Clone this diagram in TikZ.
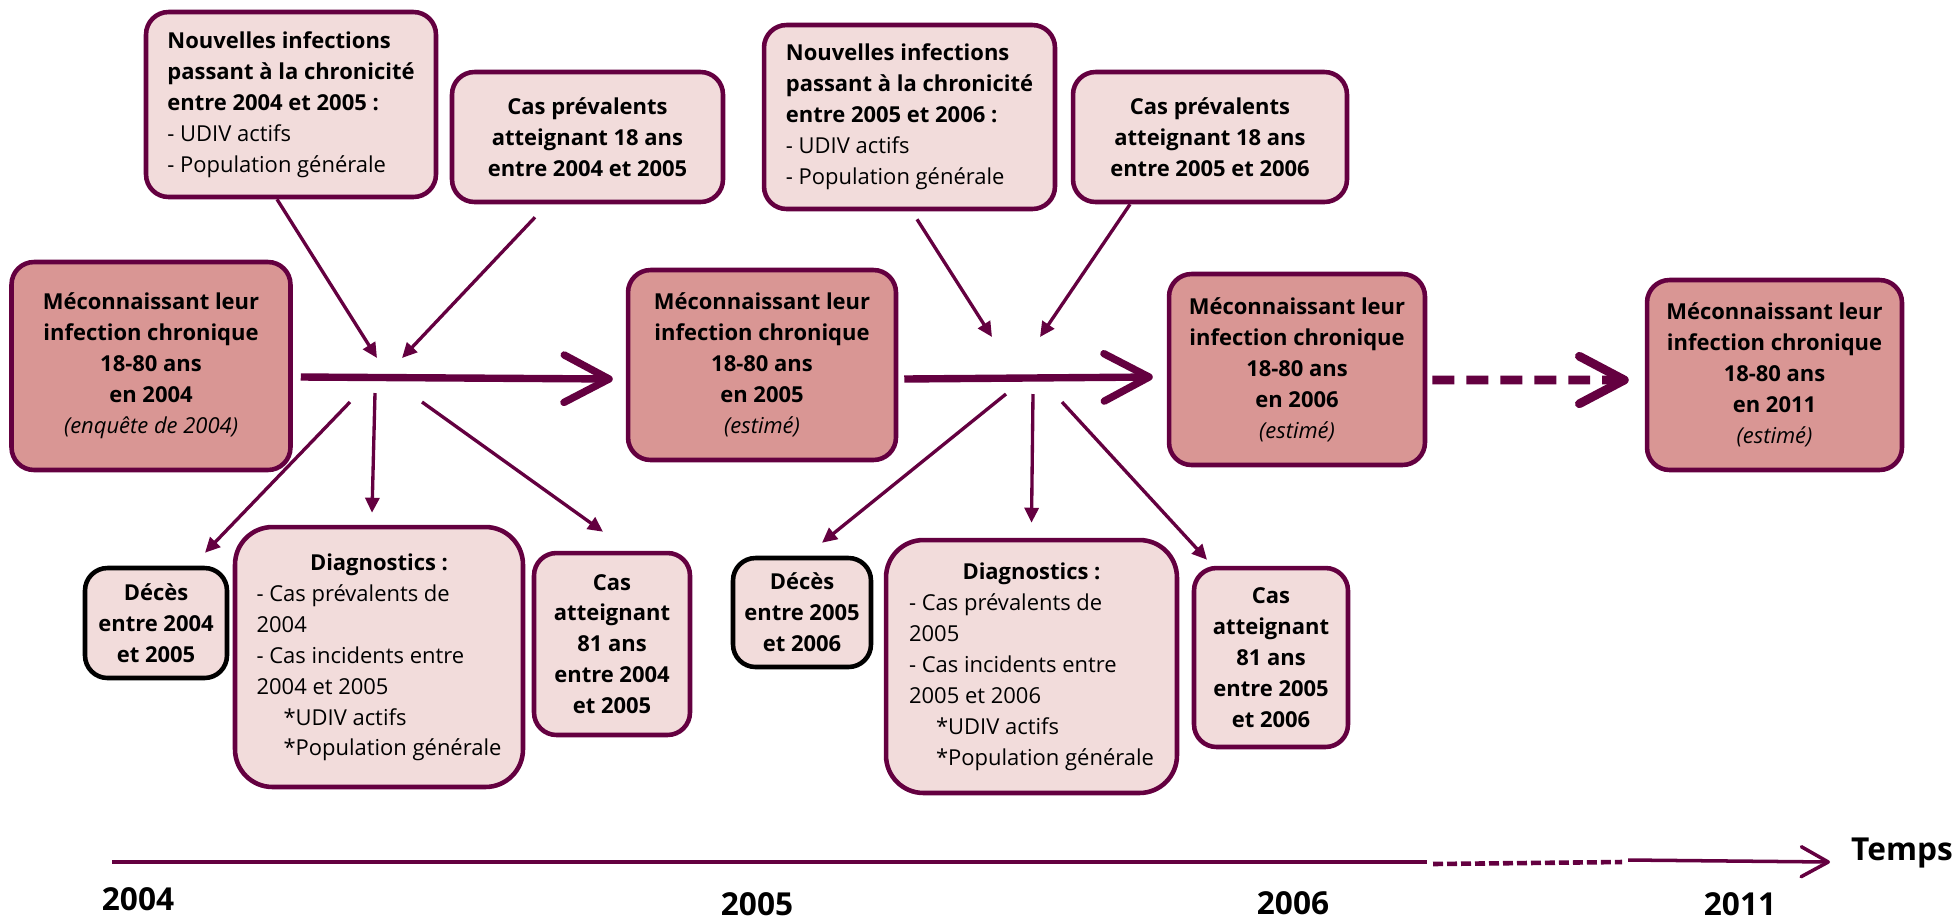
\documentclass[tikz,border=0pt]{standalone}
\usepackage{fontspec}
\setmainfont{Open Sans}
\usepackage{tikz}
\usetikzlibrary{arrows.meta}
\definecolor{wine}{HTML}{640040}
\definecolor{lightrose}{HTML}{F2DCDB}
\definecolor{darkrose}{HTML}{D99694}

\begin{document}
\begin{tikzpicture}[x=0.02cm,y=-0.02cm,
  >={Triangle[length=0.3cm,width=0.28cm]},
  every node/.style={font=\fontsize{12.5}{17.6}\selectfont},
  main node/.style={rectangle,rounded corners=0.45cm,draw=wine,line width=2.6pt,fill=lightrose,inner sep=0pt},
  bold node/.style={main node,align=center,font=\fontsize{12.5}{17.6}\selectfont\bfseries},
  unk node/.style={bold node,fill=darkrose},
  dead node/.style={bold node,draw=black},
  diag node/.style={main node,rounded corners=0.75cm},
  year node/.style={inner sep=0pt,font=\fontsize{18}{22}\selectfont\bfseries},
  flow/.style={->,color=wine,line width=1.9pt},
  big flow/.style={-{Straight Barb[length=0.9cm,width=0.95cm,round]},color=wine,line width=4.2pt},
  time line/.style={draw=wine,line width=2.3pt}]
  \useasboundingbox (0,0) rectangle (1957,921);

  % 2004 -> 2005
  \node[unk node,minimum width=5.58cm,minimum height=4.16cm] (1) at (151,366)
    {Méconnaissant leur\\infection chronique\\18-80 ans\\en 2004\\{\mdseries\itshape (enquête de 2004)}};
  \node[main node,align=left,minimum width=5.8cm,minimum height=3.7cm] (2) at (291,104.5)
    {\textbf{Nouvelles infections}\\\textbf{passant à la chronicité}\\\textbf{entre 2004 et 2005 :}\\- UDIV actifs\\- Population générale};
  \node[bold node,minimum width=5.42cm,minimum height=2.6cm] (3) at (587.5,137)
    {Cas prévalents\\atteignant 18 ans\\entre 2004 et 2005};
  \node[dead node,minimum width=2.84cm,minimum height=2.2cm] (4) at (156,623)
    {Décès\\entre 2004\\et 2005};
  \node[diag node,minimum width=5.76cm,minimum height=5.2cm] (5) at (379,657)
    {\begin{tabular}{@{}l@{}}\multicolumn{1}{@{}c@{}}{\textbf{Diagnostics :}}\\- Cas prévalents de\\2004\\- Cas incidents entre\\2004 et 2005\\\hspace{0.54cm}*UDIV actifs\\\hspace{0.54cm}*Population générale\end{tabular}};
  \node[bold node,minimum width=3.12cm,minimum height=3.64cm] (6) at (612,644)
    {Cas\\atteignant\\81 ans\\entre 2004\\et 2005};

  % 2005 -> 2006
  \node[unk node,minimum width=5.36cm,minimum height=3.8cm] (7) at (762,365)
    {Méconnaissant leur\\infection chronique\\18-80 ans\\en 2005\\{\mdseries\itshape (estimé)}};
  \node[main node,align=left,minimum width=5.82cm,minimum height=3.68cm] (8) at (909.5,117)
    {\textbf{Nouvelles infections}\\\textbf{passant à la chronicité}\\\textbf{entre 2005 et 2006 :}\\- UDIV actifs\\- Population générale};
  \node[bold node,minimum width=5.48cm,minimum height=2.6cm] (9) at (1210,137)
    {Cas prévalents\\atteignant 18 ans\\entre 2005 et 2006};
  \node[dead node,minimum width=2.76cm,minimum height=2.18cm] (10) at (802,612.5)
    {Décès\\entre 2005\\et 2006};
  \node[diag node,minimum width=5.82cm,minimum height=5.06cm] (11) at (1031.5,666.5)
    {\begin{tabular}{@{}l@{}}\multicolumn{1}{@{}c@{}}{\textbf{Diagnostics :}}\\- Cas prévalents de\\2005\\- Cas incidents entre\\2005 et 2006\\\hspace{0.54cm}*UDIV actifs\\\hspace{0.54cm}*Population générale\end{tabular}};
  \node[bold node,minimum width=3.08cm,minimum height=3.58cm] (12) at (1271,657.5)
    {Cas\\atteignant\\81 ans\\entre 2005\\et 2006};

  \node[unk node,minimum width=5.12cm,minimum height=3.82cm] (13) at (1297,369.5)
    {Méconnaissant leur\\infection chronique\\18-80 ans\\en 2006\\{\mdseries\itshape (estimé)}};
  \node[unk node,minimum width=5.1cm,minimum height=3.8cm] (14) at (1774.5,375)
    {Méconnaissant leur\\infection chronique\\18-80 ans\\en 2011\\{\mdseries\itshape (estimé)}};

  % loose ends of the flows
  \coordinate (a1) at (377,358);
  \coordinate (a2) at (402,358);
  \coordinate (b1) at (350,402);
  \coordinate (b2) at (375,393);
  \coordinate (b3) at (422,402);
  \coordinate (a3) at (992,337);
  \coordinate (a4) at (1040,337);
  \coordinate (b4) at (1006,394);
  \coordinate (b5) at (1033,394);
  \coordinate (b6) at (1062,402);

  \path[flow]
    ([xshift=-0.28cm]2.south) edge (a1)
    ([xshift=-1.05cm,yshift=-0.26cm]3.south) edge (a2)
    (b1) edge ([xshift=0.98cm,yshift=0.26cm]4.north)
    (b2) edge ([xshift=-0.14cm,yshift=0.24cm]5.north)
    (b3) edge ([xshift=-0.18cm,yshift=0.38cm]6.north)
    ([xshift=0.15cm,yshift=-0.16cm]8.south) edge (a3)
    ([xshift=-1.6cm]9.south) edge (a4)
    (b4) edge ([xshift=0.4cm,yshift=0.26cm]10.north)
    (b5) edge ([yshift=0.3cm]11.north)
    (b6) edge ([xshift=-1.28cm,yshift=0.12cm]12.north);

  \path[big flow]
    ([xshift=0.16cm,yshift=-0.22cm]1.east) edge ([xshift=-0.26cm,yshift=-0.28cm]7.west)
    ([xshift=0.12cm,yshift=-0.28cm]7.east) edge ([xshift=-0.28cm,yshift=-0.15cm]13.west)
    ([xshift=0.1cm,yshift=-0.21cm]13.east) edge[line width=5pt,dash pattern=on 0.44cm off 0.24cm] ([xshift=-0.32cm,yshift=-0.1cm]14.west);

  % time axis
  \coordinate (t0) at (112,862);
  \coordinate (t1) at (1427,862);
  \coordinate (t2) at (1433,864);
  \coordinate (t3) at (1622,862);
  \coordinate (t4) at (1628,860);
  \coordinate (t5) at (1830,862);
  \draw[time line] (t0) -- (t1);
  \draw[time line,line width=2.6pt,dash pattern=on 0.2cm off 0.08cm] (t2) -- (t3);
  \draw[time line,line width=2pt,-{Straight Barb[length=0.54cm,width=0.6cm,round]}] (t4) -- (t5);

  \node[year node] (15) at (138,899) {2004};
  \node[year node] (16) at (757,904) {2005};
  \node[year node] (17) at (1293,903) {2006};
  \node[year node] (18) at (1740,904) {2011};
  \node[year node] (19) at (1902,853) {Temps};
\end{tikzpicture}
\end{document}
